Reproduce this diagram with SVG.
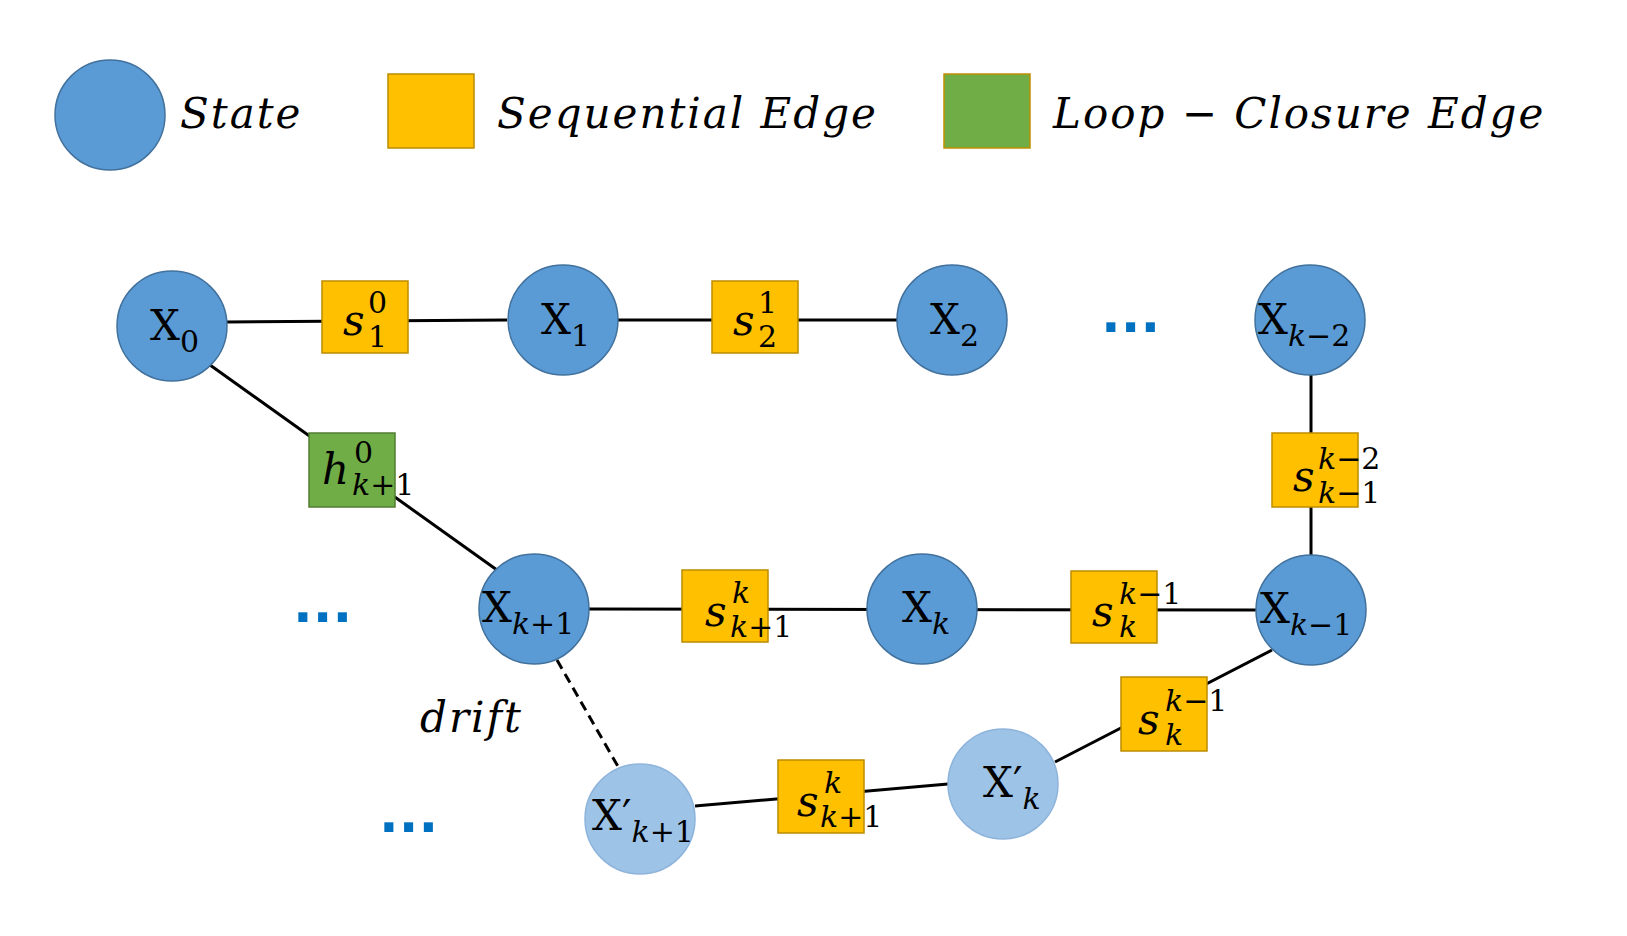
<svg xmlns="http://www.w3.org/2000/svg" width="1627" height="936" viewBox="0 0 1627 936">
<style>
.st{fill:#5b9bd5;stroke:#41719c;stroke-width:1.5}
.lt{fill:#9dc3e6;stroke:#8eb4dc;stroke-width:1.5}
.sq{fill:#ffc000;stroke:#bc8c00;stroke-width:1.5}
.lc{fill:#70ad47;stroke:#c09000;stroke-width:1.5}
.e{stroke:#000;stroke-width:3;fill:none}
text{font-family:"DejaVu Serif","Liberation Serif",serif;fill:#000}
.big{font-size:42px}
.it{font-style:italic}
.leg{font-size:42px;font-style:italic;letter-spacing:2px;font-family:"DejaVu Serif","Liberation Serif",serif}
.sb{font-size:30px}
.dots{fill:#0070c0;font-size:64px;font-weight:bold;font-family:"Liberation Sans",sans-serif;letter-spacing:2px}
</style>
<rect width="1627" height="936" fill="#fff"/>
<g id="legend">
<circle class="st" cx="110" cy="115" r="55"/>
<text class="leg" x="180" y="128">State</text>
<rect class="sq" x="388" y="74" width="86" height="74"/>
<text class="leg" x="497" y="128">Sequential Edge</text>
<rect class="lc" x="944" y="74" width="86" height="74"/>
<text class="leg" x="1053" y="128">Loop − Closure Edge</text>
</g>
<g id="connectors">
<line class="e" x1="227" y1="322" x2="507" y2="320"/>
<line class="e" x1="618" y1="320" x2="897" y2="320"/>
<line class="e" x1="210" y1="365" x2="497" y2="570"/>
<line class="e" x1="1311" y1="375" x2="1311" y2="555"/>
<line class="e" x1="589" y1="609" x2="1256" y2="610"/>
<line class="e" x1="557" y1="660" x2="620" y2="770" stroke-dasharray="10,6"/>
<line class="e" x1="695" y1="806" x2="948" y2="784"/>
<line class="e" x1="1055" y1="762" x2="1272" y2="650"/>
</g>
<g id="X0"><circle class="st" cx="172" cy="326" r="55"/><text class="big" x="150" y="340">X<tspan class="sb" dy="12">0</tspan></text></g>
<g id="s10"><rect class="sq" x="322" y="281" width="86" height="72"/><text class="big it" x="343" y="335">s</text><text class="sb" x="368" y="313">0</text><text class="sb" x="368" y="347">1</text></g>
<g id="X1"><circle class="st" cx="563" cy="320" r="55"/><text class="big" x="541" y="334">X<tspan class="sb" dy="12">1</tspan></text></g>
<g id="s21"><rect class="sq" x="712" y="281" width="86" height="72"/><text class="big it" x="733" y="335">s</text><text class="sb" x="758" y="313">1</text><text class="sb" x="758" y="347">2</text></g>
<g id="X2"><circle class="st" cx="952" cy="320" r="55"/><text class="big" x="930" y="334">X<tspan class="sb" dy="12">2</tspan></text></g>
<text class="dots" x="1102" y="332">...</text>
<g id="Xk-2"><circle class="st" cx="1310" cy="320" r="55"/><text class="big" x="1258" y="334">X<tspan class="sb it" dy="12">k</tspan><tspan class="sb">−2</tspan></text></g>
<g id="skm1"><rect class="sq" x="1272" y="433" width="86" height="74"/><text class="big it" x="1293" y="491">s</text><text class="sb" x="1318" y="469"><tspan class="it">k</tspan>−2</text><text class="sb" x="1318" y="503"><tspan class="it">k</tspan>−1</text></g>
<g id="h"><rect class="lc" x="309" y="433" width="86" height="74" style="stroke:#507e32"/><text class="big it" x="322" y="484">h</text><text class="sb" x="354" y="463">0</text><text class="sb" x="352" y="495"><tspan class="it">k</tspan>+1</text></g>
<text class="dots" x="294" y="622">...</text>
<g id="Xk+1"><circle class="st" cx="534" cy="609" r="55"/><text class="big" x="482" y="622">X<tspan class="sb it" dy="12">k</tspan><tspan class="sb">+1</tspan></text></g>
<g id="sk+1"><rect class="sq" x="682" y="570" width="86" height="72"/><text class="big it" x="705" y="626">s</text><text class="sb it" x="732" y="603">k</text><text class="sb" x="730" y="637"><tspan class="it">k</tspan>+1</text></g>
<g id="Xk"><circle class="st" cx="922" cy="609" r="55"/><text class="big" x="902" y="622">X<tspan class="sb it" dy="12">k</tspan></text></g>
<g id="sk"><rect class="sq" x="1071" y="571" width="86" height="72"/><text class="big it" x="1092" y="626">s</text><text class="sb" x="1119" y="604"><tspan class="it">k</tspan>−1</text><text class="sb it" x="1119" y="637">k</text></g>
<g id="Xk-1"><circle class="st" cx="1311" cy="610" r="55"/><text class="big" x="1260" y="623">X<tspan class="sb it" dy="12">k</tspan><tspan class="sb">−1</tspan></text></g>
<text class="leg" x="420" y="732">drift</text>
<text class="dots" x="380" y="832">...</text>
<g id="Xpk+1"><circle class="lt" cx="640" cy="819" r="55"/><text class="big" x="592" y="830">X′<tspan class="sb it" dy="12">k</tspan><tspan class="sb">+1</tspan></text></g>
<g id="spk+1"><rect class="sq" x="778" y="760" width="86" height="73"/><text class="big it" x="797" y="816">s</text><text class="sb it" x="824" y="793">k</text><text class="sb" x="820" y="827"><tspan class="it">k</tspan>+1</text></g>
<g id="Xpk"><circle class="lt" cx="1003" cy="784" r="55"/><text class="big" x="983" y="797">X′<tspan class="sb it" dy="12">k</tspan></text></g>
<g id="spk"><rect class="sq" x="1121" y="677" width="86" height="74"/><text class="big it" x="1138" y="734">s</text><text class="sb" x="1165" y="711"><tspan class="it">k</tspan>−1</text><text class="sb it" x="1165" y="745">k</text></g>
</svg>
